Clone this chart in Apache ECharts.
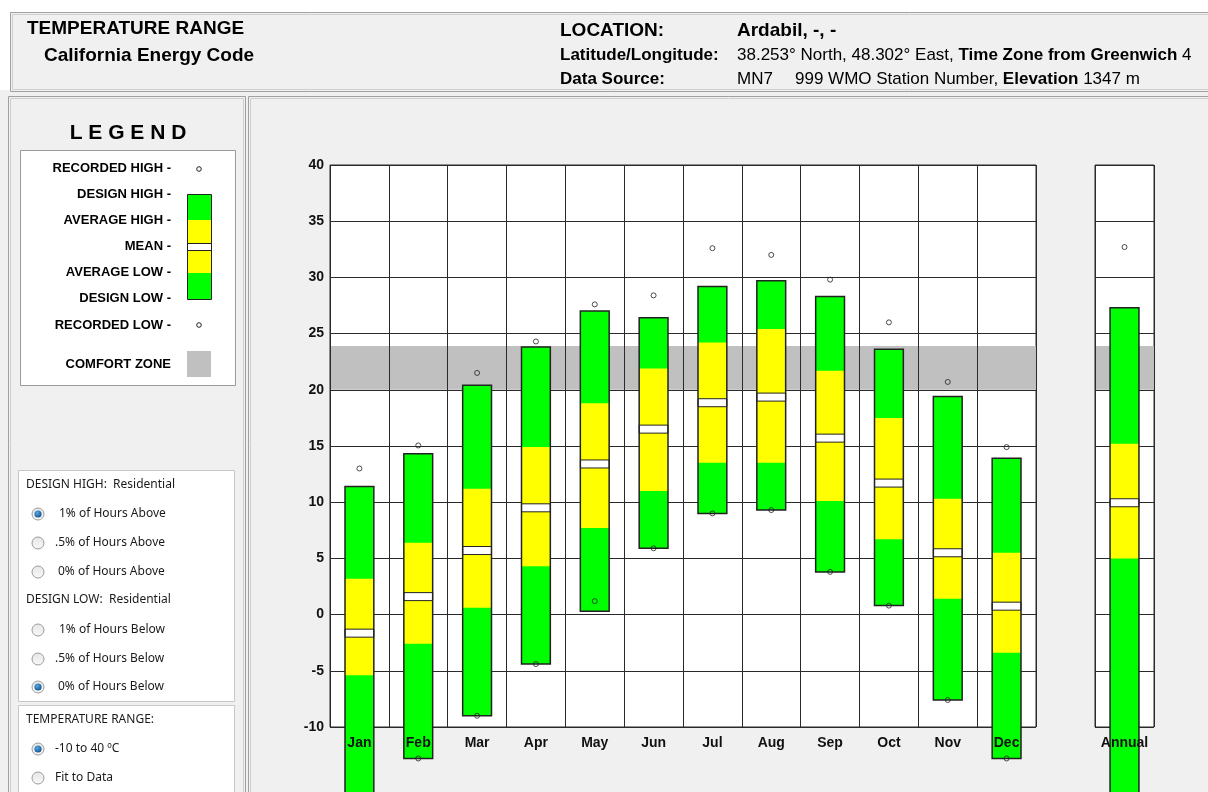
<!DOCTYPE html>
<html><head><meta charset="utf-8">
<script src="https://cdn.jsdelivr.net/npm/echarts@6/dist/echarts.min.js"></script>
<style>html,body{margin:0;padding:0;background:#fff}#c{width:1208px;height:792px}</style>
</head><body><div id="c"></div>
<script>
// ---- data (°C) ----
const categories   = ['Jan','Feb','Mar','Apr','May','Jun','Jul','Aug','Sep','Oct','Nov','Dec','Annual'];
const designHigh   = [11.4, 14.3, 20.4, 23.8, 27.0, 26.4, 29.2, 29.7, 28.3, 23.6, 19.4, 13.9, 27.3];
const averageHigh  = [ 3.2,  6.4, 11.2, 14.9, 18.8, 21.9, 24.2, 25.4, 21.7, 17.5, 10.3,  5.5, 15.2];
const meanTemp     = [-1.65, 1.6,  5.7,  9.5, 13.4, 16.5, 18.85,19.35,15.7, 11.7,  5.5,  0.75, 9.95];
const averageLow   = [-5.4, -2.6,  0.6,  4.3,  7.7, 11.0, 13.5, 13.5, 10.1,  6.7,  1.4, -3.4,  5.0];
const designLow    = [-17.5,-12.8, -9.0, -4.4,  0.3,  5.9,  9.0,  9.3,  3.8,  0.8, -7.6,-12.8,-17.5];
const recordedHigh = [13.0, 15.05, 21.5, 24.3, 27.6, 28.4, 32.6, 32.0, 29.8, 26.0, 20.7, 14.9, 32.7];
const recordedLow  = [-18.5,-12.8, -9.0, -4.4,  1.2,  5.9,  9.0,  9.3,  3.8,  0.8, -7.6,-12.8,-18.5];
const comfortZone  = [20, 23.9];
const yMin = -10, yMax = 40, yInterval = 5;

const NM = 12; // monthly columns; last entry is Annual
const monthCats = categories.slice(0, NM);
const annualCats = categories.slice(NM);

function barRows(from, to) {
  const rows = [];
  for (let i = from; i < to; i++) rows.push([i - from, designLow[i], averageLow[i], meanTemp[i], averageHigh[i], designHigh[i]]);
  return rows;
}
function ptRows(arr, from, to) {
  const rows = [];
  for (let i = from; i < to; i++) rows.push([i - from, arr[i]]);
  return rows;
}

function renderBar(params, api) {
  const x = api.value(0);
  const dl = api.value(1), al = api.value(2), mn = api.value(3), ah = api.value(4), dh = api.value(5);
  const w = api.size([1, 0])[0] * 0.49;
  const top = api.coord([x, dh]), bot = api.coord([x, dl]);
  const yAH = api.coord([x, ah])[1], yAL = api.coord([x, al])[1], yM = api.coord([x, mn])[1];
  const left = top[0] - w / 2;
  return {
    type: 'group', children: [
      { type: 'rect', shape: { x: left, y: top[1], width: w, height: bot[1] - top[1] }, style: { fill: '#00ff00' } },
      { type: 'rect', shape: { x: left, y: yAH, width: w, height: yAL - yAH }, style: { fill: '#ffff00' } },
      { type: 'rect', shape: { x: left, y: yM - 4, width: w, height: 8 }, style: { fill: '#ffffff', stroke: '#222', lineWidth: 1 } },
      { type: 'rect', shape: { x: left, y: top[1], width: w, height: bot[1] - top[1] }, style: { fill: 'none', stroke: '#222', lineWidth: 1.5 } }
    ]
  };
}
function renderComfort(params, api) {
  const cs = params.coordSys;
  const y1 = api.coord([0, api.value(2)])[1], y0 = api.coord([0, api.value(1)])[1];
  return { type: 'rect', shape: { x: cs.x, y: y1, width: cs.width, height: y0 - y1 }, style: { fill: '#c0c0c0' } };
}

const gridLine = { show: true, lineStyle: { color: '#2a2a2a', width: 1 } };
function yAxisCfg(idx, showLabel) {
  return {
    type: 'value', gridIndex: idx, min: yMin, max: yMax, interval: yInterval, z: 0,
    axisLine: { show: false }, axisTick: { show: false }, splitLine: gridLine,
    axisLabel: { show: showLabel, margin: 6, color: '#111', fontFamily: 'Liberation Sans, Arial', fontWeight: 'bold', fontSize: 14 }
  };
}
function xAxisCfg(idx, data) {
  return {
    type: 'category', gridIndex: idx, data: data, boundaryGap: true, z: 5,
    axisLine: { show: false }, axisTick: { show: false }, splitLine: gridLine,
    axisLabel: { margin: 9, color: '#111', fontFamily: 'Liberation Sans, Arial', fontWeight: 'bold', fontSize: 14, interval: 0 }
  };
}
const ptStyle = { color: 'rgba(0,0,0,0)', borderColor: '#222', borderWidth: 1 };

// ---- decorative page (panels, header, legend) ----
const G = [];
const bold = (s) => 'bold ' + s + 'px "Liberation Sans", Arial, sans-serif';
const reg = (s) => s + 'px "Liberation Sans", Arial, sans-serif';
const ui = (s) => s + 'px "Noto Sans", "DejaVu Sans", sans-serif';
function txt(x, y, text, font, align, fill) {
  G.push({ type: 'text', x: x, y: y, z: 100, style: { text: text, font: font, fill: fill || '#000', align: align || 'left', verticalAlign: 'middle' } });
}
function panel(x, y, w, h, fill) {
  G.push({ type: 'rect', z: -60, shape: { x: x, y: y, width: w, height: h }, style: { fill: fill, stroke: '#a0a0a0', lineWidth: 1 } });
  G.push({ type: 'rect', z: -59, shape: { x: x + 2, y: y + 2, width: w - 4, height: h - 4 }, style: { fill: 'none', stroke: '#d0d0d0', lineWidth: 1 } });
}
// page background
G.push({ type: 'rect', z: -70, shape: { x: 0, y: 90, width: 1208, height: 702 }, style: { fill: '#f0f0f0' } });
panel(10.5, 12.5, 1210, 79, '#f0f0f0');
panel(8.5, 96.5, 237, 710, '#f0f0f0');
panel(248.5, 96.5, 970, 710, '#f0f0f0');

// header
txt(27, 29, 'TEMPERATURE RANGE', bold(19));
txt(44, 56, 'California Energy Code', bold(19));
txt(560, 31, 'LOCATION:', bold(19));
txt(737, 31, 'Ardabil, -, -', bold(19));
txt(560, 55, 'Latitude/Longitude:', bold(17));
txt(560, 79, 'Data Source:', bold(17));
G.push({ type: 'text', x: 737, y: 55, z: 100, style: { text: '{r|38.253° North, 48.302° East, }{b|Time Zone from Greenwich}{r| 4}', verticalAlign: 'middle', rich: { r: { font: reg(17), fill: '#000' }, b: { font: bold(17), fill: '#000' } } } });
txt(737, 79, 'MN7', reg(17));
G.push({ type: 'text', x: 795, y: 79, z: 100, style: { text: '{r|999 WMO Station Number, }{b|Elevation}{r| 1347 m}', verticalAlign: 'middle', rich: { r: { font: reg(17), fill: '#000' }, b: { font: bold(17), fill: '#000' } } } });

// legend
txt(128, 133, 'L E G E N D', bold(21), 'center');
G.push({ type: 'rect', z: -40, shape: { x: 20.5, y: 150.5, width: 215, height: 235 }, style: { fill: '#fff', stroke: '#9a9a9a', lineWidth: 1 } });
const legItems = [['RECORDED HIGH -', 168], ['DESIGN HIGH -', 194], ['AVERAGE HIGH -', 220], ['MEAN -', 246], ['AVERAGE LOW -', 272], ['DESIGN LOW -', 298], ['RECORDED LOW -', 325], ['COMFORT ZONE', 364]];
legItems.forEach(function (it) { txt(171, it[1], it[0], bold(13), 'right'); });
G.push({ type: 'rect', z: -30, shape: { x: 187.5, y: 194.5, width: 24, height: 105 }, style: { fill: '#00ff00' } });
G.push({ type: 'rect', z: -29, shape: { x: 187.5, y: 220, width: 24, height: 53 }, style: { fill: '#ffff00' } });
G.push({ type: 'rect', z: -28, shape: { x: 187.5, y: 243.5, width: 24, height: 7 }, style: { fill: '#fff', stroke: '#222', lineWidth: 1 } });
G.push({ type: 'rect', z: -27, shape: { x: 187.5, y: 194.5, width: 24, height: 105 }, style: { fill: 'none', stroke: '#222', lineWidth: 1 } });
G.push({ type: 'circle', z: -27, shape: { cx: 199, cy: 169, r: 2.3 }, style: { fill: 'none', stroke: '#222', lineWidth: 1 } });
G.push({ type: 'circle', z: -27, shape: { cx: 199, cy: 325, r: 2.3 }, style: { fill: 'none', stroke: '#222', lineWidth: 1 } });
G.push({ type: 'rect', z: -27, shape: { x: 187, y: 351, width: 24, height: 26 }, style: { fill: '#c0c0c0' } });

// option boxes
G.push({ type: 'rect', z: -40, shape: { x: 18.5, y: 470.5, width: 216, height: 231 }, style: { fill: '#fff', stroke: '#c8c8c8', lineWidth: 1 } });
G.push({ type: 'rect', z: -40, shape: { x: 18.5, y: 705.5, width: 216, height: 100 }, style: { fill: '#fff', stroke: '#c8c8c8', lineWidth: 1 } });
function radio(cy, label, lx, on) {
  G.push({ type: 'circle', z: -30, shape: { cx: 38, cy: cy, r: 6 }, style: { fill: new echarts.graphic.LinearGradient(0, 0, 0, 1, [{ offset: 0, color: '#e6e6e6' }, { offset: 1, color: '#f8f8f8' }]), stroke: '#9c9c9c', lineWidth: 1 } });
  if (on) G.push({ type: 'circle', z: -29, shape: { cx: 38, cy: cy, r: 3.6 }, style: { fill: new echarts.graphic.RadialGradient(0.4, 0.35, 0.7, [{ offset: 0, color: '#58a8e8' }, { offset: 1, color: '#0f4f8a' }]) } });
  txt(lx, cy, label, ui(12), 'left', '#1a1a1a');
}
txt(26, 485, 'DESIGN HIGH:  Residential', ui(12), 'left', '#1a1a1a');
radio(514, '1% of Hours Above', 59, true);
radio(543, '.5% of Hours Above', 55, false);
radio(572, '0% of Hours Above', 58, false);
txt(26, 600, 'DESIGN LOW:  Residential', ui(12), 'left', '#1a1a1a');
radio(630, '1% of Hours Below', 59, false);
radio(659, '.5% of Hours Below', 55, false);
radio(687, '0% of Hours Below', 58, true);
txt(26, 720, 'TEMPERATURE RANGE:', ui(12), 'left', '#1a1a1a');
radio(749, '-10 to 40 ºC', 55, true);
radio(778, 'Fit to Data', 55, false);

const chart = echarts.init(document.getElementById('c'), null, { renderer: 'canvas' });
chart.setOption({
  backgroundColor: '#ffffff',
  animation: false,
  graphic: { elements: G },
  grid: [
    { left: 330, top: 165, width: 706, height: 562, show: true, backgroundColor: '#ffffff', borderColor: '#2a2a2a', borderWidth: 1, z: -5, containLabel: false, outerBoundsMode: 'none' },
    { left: 1095, top: 165, width: 59, height: 562, show: true, backgroundColor: '#ffffff', borderColor: '#2a2a2a', borderWidth: 1, z: -5, containLabel: false, outerBoundsMode: 'none' }
  ],
  xAxis: [xAxisCfg(0, monthCats), xAxisCfg(1, annualCats)],
  yAxis: [yAxisCfg(0, true), yAxisCfg(1, false)],
  series: [
    { type: 'custom', xAxisIndex: 0, yAxisIndex: 0, z: -1, silent: true, renderItem: renderComfort, data: [[0, comfortZone[0], comfortZone[1]]] },
    { type: 'custom', xAxisIndex: 1, yAxisIndex: 1, z: -1, silent: true, renderItem: renderComfort, data: [[0, comfortZone[0], comfortZone[1]]] },
    { type: 'custom', xAxisIndex: 0, yAxisIndex: 0, z: 2, clip: false, renderItem: renderBar, data: barRows(0, NM) },
    { type: 'custom', xAxisIndex: 1, yAxisIndex: 1, z: 2, clip: false, renderItem: renderBar, data: barRows(NM, categories.length) },
    { type: 'scatter', xAxisIndex: 0, yAxisIndex: 0, z: 3, clip: false, symbol: 'circle', symbolSize: 5, itemStyle: ptStyle, data: ptRows(recordedHigh, 0, NM) },
    { type: 'scatter', xAxisIndex: 0, yAxisIndex: 0, z: 3, clip: false, symbol: 'circle', symbolSize: 5, itemStyle: ptStyle, data: ptRows(recordedLow, 0, NM) },
    { type: 'scatter', xAxisIndex: 1, yAxisIndex: 1, z: 3, clip: false, symbol: 'circle', symbolSize: 5, itemStyle: ptStyle, data: ptRows(recordedHigh, NM, categories.length) },
    { type: 'scatter', xAxisIndex: 1, yAxisIndex: 1, z: 3, clip: false, symbol: 'circle', symbolSize: 5, itemStyle: ptStyle, data: ptRows(recordedLow, NM, categories.length) }
  ]
});
</script></body></html>
